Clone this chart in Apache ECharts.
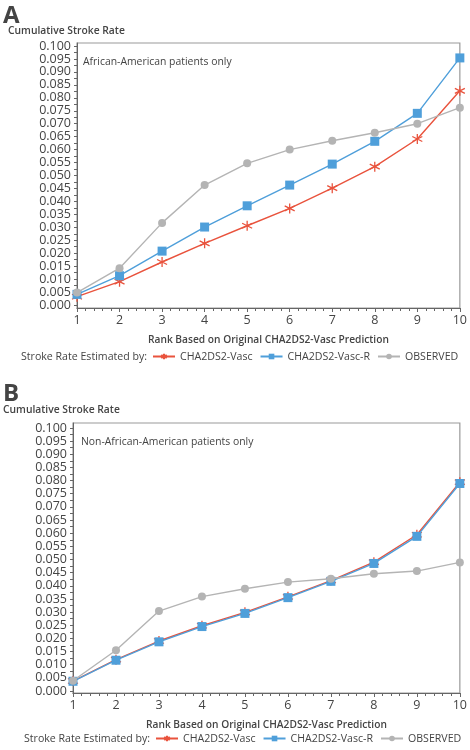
<!DOCTYPE html>
<html>
<head>
<meta charset="utf-8">
<script src="https://cdn.jsdelivr.net/npm/echarts@6/dist/echarts.min.js"></script>
<style>html,body{margin:0;padding:0;background:#fff}#c{width:470px;height:750px}</style>
</head>
<body>
<div id="c"></div>
<script>
const ranks = [1, 2, 3, 4, 5, 6, 7, 8, 9, 10];
const yTickValues = [0, 0.005, 0.01, 0.015, 0.02, 0.025, 0.03, 0.035, 0.04, 0.045, 0.05, 0.055, 0.06, 0.065, 0.07, 0.075, 0.08, 0.085, 0.09, 0.095, 0.1];
const seriesNames = ['CHA2DS2-Vasc', 'CHA2DS2-Vasc-R', 'OBSERVED'];
// Panel A: African-American patients only
const aaVasc  = [0.0032, 0.0090, 0.0166, 0.0238, 0.0306, 0.0373, 0.0451, 0.0534, 0.0641, 0.0827];
const aaVascR = [0.0041, 0.0113, 0.0208, 0.0301, 0.0383, 0.0463, 0.0544, 0.0632, 0.0740, 0.0954];
const aaObs   = [0.0048, 0.0142, 0.0317, 0.0463, 0.0547, 0.0600, 0.0634, 0.0665, 0.0700, 0.0762];
// Panel B: Non-African-American patients only
const naVasc  = [0.0038, 0.0119, 0.0190, 0.0248, 0.0299, 0.0358, 0.0420, 0.0490, 0.0594, 0.0794];
const naVascR = [0.0037, 0.0117, 0.0187, 0.0245, 0.0295, 0.0355, 0.0417, 0.0485, 0.0588, 0.0789];
const naObs   = [0.0039, 0.0155, 0.0304, 0.0359, 0.0389, 0.0414, 0.0427, 0.0446, 0.0456, 0.0489];

const RED = '#e9533d', BLUE = '#4f9fda', GRAY = '#b4b4b4', TXT = '#444';
const FONT = '"Open Sans", sans-serif';
const ASTER = 'path://M0,-10L0,10M-8.66,-5L8.66,5M-8.66,5L8.66,-5';
const minorTicks = [];
for (let i = 0; i <= 40; i++) minorTicks.push(+(i * 0.0025).toFixed(4));

const pairs = (vals) => ranks.map((r, i) => [r, vals[i]]);

function xAxis(gi) {
  return {
    type: 'value', gridIndex: gi, min: 1, max: 10, interval: 1,
    axisLine: {show: true, onZero: false, lineStyle: {color: '#666', width: 1}},
    axisTick: {show: true, length: 4, lineStyle: {color: '#666'}},
    minorTick: {show: true, splitNumber: 5, length: 3, lineStyle: {color: '#666'}},
    splitLine: {show: false}, minorSplitLine: {show: false},
    axisLabel: {color: TXT, fontSize: 12.5, fontFamily: FONT, margin: 6},
    name: 'Rank Based on Original CHA2DS2-Vasc Prediction',
    nameLocation: 'middle', nameGap: 27,
    nameTextStyle: {color: TXT, fontSize: 10.2, fontWeight: 600, fontFamily: FONT}
  };
}
function yAxis(gi, mn, mx) {
  return {
    type: 'value', gridIndex: gi, min: mn, max: mx,
    axisLine: {show: true, lineStyle: {color: '#666', width: 1}},
    axisTick: {show: true, length: 3, customValues: minorTicks, lineStyle: {color: '#666'}},
    splitLine: {show: false},
    axisLabel: {show: true, customValues: yTickValues, color: TXT, fontSize: 12.5, fontFamily: FONT, margin: 6,
      formatter: v => v.toFixed(3)}
  };
}
function ser(name, vals, gi, idx) {
  const base = {
    name: name, type: 'line', xAxisIndex: gi, yAxisIndex: gi, data: pairs(vals),
    lineStyle: {width: 1.4}, z: 2 + idx
  };
  if (idx === 0) {
    Object.assign(base, {symbol: ASTER, symbolSize: 10, color: RED,
      lineStyle: {width: 1.4, color: RED}, itemStyle: {color: RED, borderColor: RED, borderWidth: 1.3}});
  } else if (idx === 1) {
    Object.assign(base, {symbol: 'rect', symbolSize: 9, color: BLUE,
      lineStyle: {width: 1.4, color: BLUE}, itemStyle: {color: BLUE}});
  } else {
    Object.assign(base, {symbol: 'circle', symbolSize: 8, color: GRAY,
      lineStyle: {width: 1.4, color: GRAY}, itemStyle: {color: GRAY}});
  }
  return base;
}
function legend(left, top) {
  return {
    left: left, top: top, width: 330, itemWidth: 22, itemHeight: 7, itemGap: 7, padding: 0,
    data: seriesNames,
    textStyle: {color: TXT, fontSize: 10.6, fontFamily: FONT}
  };
}
function txt(x, y, s, size, weight) {
  return {type: 'text', left: x, top: y, style: {text: s, fill: TXT, font: (weight || 400) + ' ' + size + 'px ' + FONT}};
}

const chart = echarts.init(document.getElementById('c'), null, {renderer: 'canvas'});
chart.setOption({
  animation: false,
  backgroundColor: '#fff',
  grid: [
    {left: 77, right: 7, top: 43, height: 265, show: true, borderColor: '#999', borderWidth: 1.2, backgroundColor: '#fff'},
    {left: 73, right: 7, top: 423, height: 270, show: true, borderColor: '#999', borderWidth: 1.2, backgroundColor: '#fff'}
  ],
  xAxis: [xAxis(0), xAxis(1)],
  yAxis: [yAxis(0, -0.00116, 0.10116), yAxis(1, -0.00076, 0.1019)],
  legend: [legend(152, 351), legend(155, 733)],
  series: [
    ser(seriesNames[0], aaVasc, 0, 0), ser(seriesNames[1], aaVascR, 0, 1), ser(seriesNames[2], aaObs, 0, 2),
    ser(seriesNames[0], naVasc, 1, 0), ser(seriesNames[1], naVascR, 1, 1), ser(seriesNames[2], naObs, 1, 2)
  ],
  graphic: [
    txt(3, 4, 'A', 24, 700),
    txt(8, 26, 'Cumulative Stroke Rate', 10.3, 600),
    txt(83, 57, 'African-American patients only', 10.4, 400),
    txt(21, 351, 'Stroke Rate Estimated by:', 10.6, 400),
    txt(3, 382, 'B', 24, 700),
    txt(3, 405, 'Cumulative Stroke Rate', 10.3, 600),
    txt(81, 437, 'Non-African-American patients only', 10.4, 400),
    txt(24, 733, 'Stroke Rate Estimated by:', 10.6, 400)
  ]
});
</script>
</body>
</html>
